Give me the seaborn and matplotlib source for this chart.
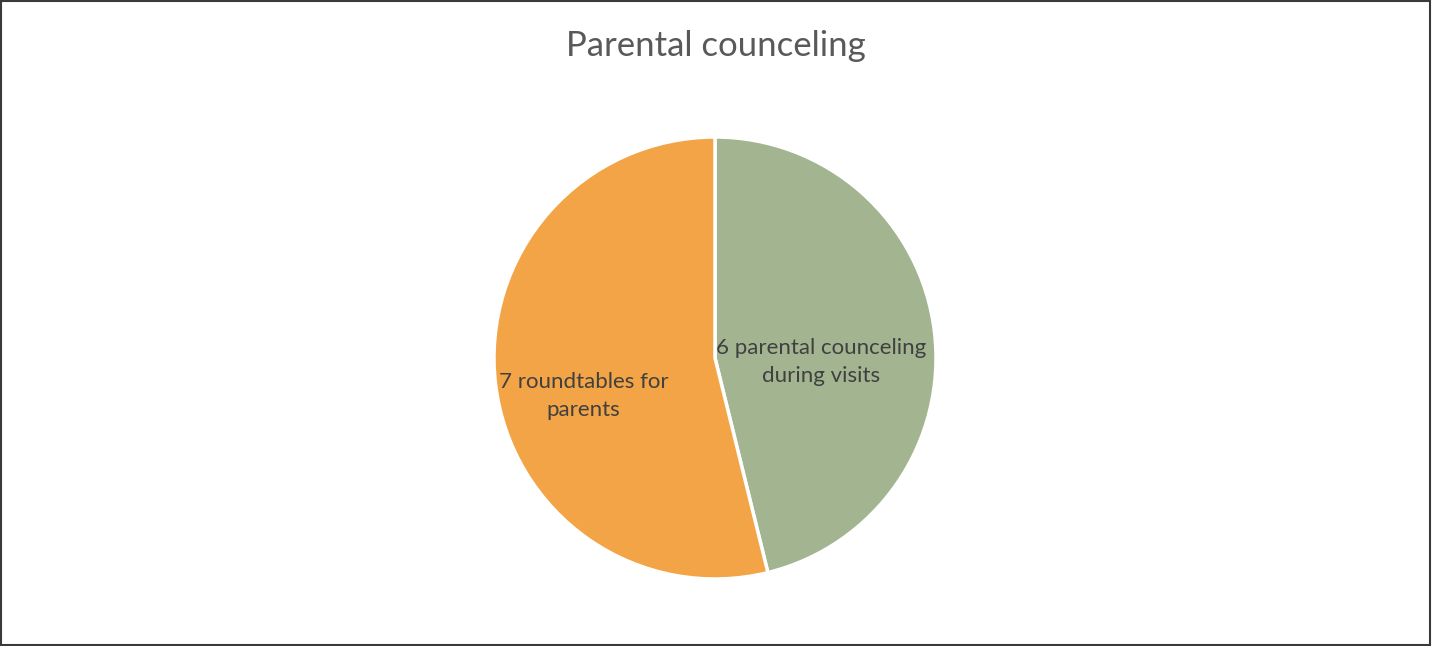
import matplotlib
matplotlib.use("Agg")
import matplotlib.pyplot as plt
import seaborn as sns
from matplotlib.patches import Rectangle

sns.set_theme(style="white")
plt.rcParams['font.family'] = ['Lato', 'DejaVu Sans']

title = "Parental counceling"
categories = ["6 parental counceling\nduring visits", "7 roundtables for\nparents"]
values = [6, 7]
colors = ["#A3B590", "#F2A446"]

W, H = 1432, 646
fig = plt.figure(figsize=(W / 100, H / 100), dpi=100)

# pie axes placed in pixel units: centre (715, 358), radius 221
cx, cy, r = 715, 358, 221
ax = fig.add_axes([(cx - r) / W, (H - cy - r) / H, 2 * r / W, 2 * r / H])
wedges, texts = ax.pie(values, labels=categories, colors=colors, startangle=90,
                       counterclock=False, labeldistance=0.5,
                       wedgeprops=dict(edgecolor="white", linewidth=2.5),
                       textprops=dict(color="#404040", fontsize=16, ha="center",
                                      va="center", linespacing=1.5))
ax.set_xlim(-1, 1)
ax.set_ylim(-1, 1)
ax.set_aspect("equal")

# label placement inside each slice
texts[0].set_position((0.48, -0.02))
texts[1].set_position((-0.595, -0.17))
for t in texts:
    t.set_horizontalalignment("center")

fig.text(0.5, 1 - 46 / H, title, ha="center", va="center", fontsize=25, color="#595959")

# outer frame
fig.patches.append(Rectangle((0.0007, 0.0015), 0.9979, 0.997, transform=fig.transFigure,
                             fill=False, edgecolor="#3a3a3a", linewidth=1.5))

fig.savefig("out.png", dpi=100)
